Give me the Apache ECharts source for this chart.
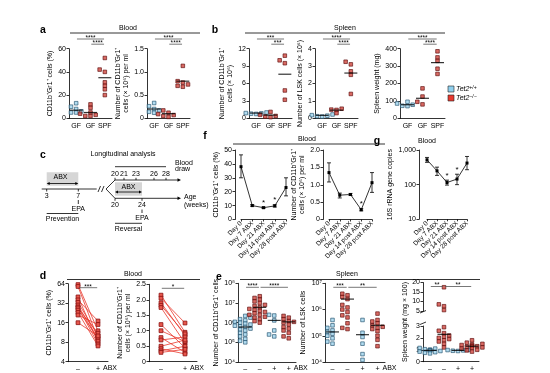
<!DOCTYPE html>
<html><head><meta charset="utf-8">
<script src="https://cdn.jsdelivr.net/npm/echarts@6/dist/echarts.min.js"></script>
<style>html,body{margin:0;padding:0;background:#fff}#c{width:550px;height:373px}</style>
</head><body><div id="c"></div>
<script>
// ---------------- categories / tick labels ----------------
const gfCats = ['GF', 'GF', 'SPF'];
const gfGeno = ['wt', 'ko', 'ko'];
const abxCats = ['–', '–', '+', '+'];
const abxGeno = ['wt', 'ko', 'wt', 'ko'];
const pairCats = ['–', '+'];
const dayCats = ['Day 0', 'Day 7 ABX', 'Day 21 ABX', 'Day 14 post ABX', 'Day 28 post ABX'];

// ---------------- panel a (blood) ----------------
const a1Groups = [[13, 10, 8, 6, 5, 5], [12, 9, 5, 4, 3, 2, 2], [52, 42, 40, 31, 28, 25, 20]];
const a1Means = [7, 5, 35];
const a2Groups = [[0.33, 0.26, 0.2, 0.17, 0.14, 0.12], [0.17, 0.12, 0.09, 0.07, 0.05, 0.03], [1.13, 0.8, 0.77, 0.73, 0.7, 0.68]];
const a2Means = [0.2, 0.1, 0.8];
const sigA1 = [['****', 0, 2, 1], ['****', 1, 2, 0]];
const sigA2 = [['****', 0, 2, 1], ['****', 1, 2, 0]];

// ---------------- panel b (spleen) ----------------
const b1Groups = [[1.0, 0.9, 0.85, 0.8, 0.75], [1.1, 0.6, 0.4, 0.3, 0.2], [10.8, 10.0, 9.5, 4.8, 3.2]];
const b1Means = [0.9, 0.55, 7.6];
const b2Groups = [[0.22, 0.18, 0.15, 0.12, 0.1], [0.55, 0.5, 0.48, 0.3], [3.25, 3.1, 2.7, 2.5, 1.4]];
const b2Means = [0.17, 0.47, 2.6];
const b3Groups = [[95, 85, 78, 72, 70], [172, 125, 95, 80], [385, 350, 330, 285, 255]];
const b3Means = [78, 115, 320];
const sigB1 = [['***', 0, 2, 1], ['***', 1, 2, 0]];
const sigB2 = [['****', 0, 2, 1], ['****', 1, 2, 0]];
const sigB3 = [['****', 0, 2, 1], ['****', 1, 2, 0]];

// ---------------- panel c (schematic) ----------------
const cPrevWeeks = [3, 7];
const cTopWeeks = [20, 21, 23, 26, 28];
const cBotWeeks = [20, 24];

// ---------------- panel f, g (time course) ----------------
const f1Mean = [38, 10, 8.5, 9.8, 23];
const f1Lo = [30, 9.5, 8, 9, 17];
const f1Hi = [46.5, 10.7, 9, 10.6, 30];
const f1Sig = [2, 3];
const f2Mean = [1.35, 0.7, 0.72, 0.28, 1.06];
const f2Lo = [1.08, 0.62, 0.69, 0.25, 0.78];
const f2Hi = [1.63, 0.76, 0.75, 0.31, 1.35];
const f2Sig = [3];
const gMean = [520, 250, 115, 145, 420];
const gLo = [440, 185, 97, 100, 270];
const gHi = [610, 320, 135, 200, 650];
const gSig = [2, 3];

// ---------------- panel d (paired) ----------------
const d1Minus = [62, 58, 40, 36, 33, 30, 28, 27, 25, 23, 21, 16];
const d1Plus = [12, 9, 8, 17, 10, 8.5, 7.5, 11, 9.5, 7, 15, 10];
const d2Minus = [2.15, 2.05, 1.9, 1.82, 1.75, 1.2, 1.0, 0.78, 0.7, 0.5, 0.42, 0.35, 0.3];
const d2Plus = [0.95, 1.25, 0.85, 0.9, 0.6, 0.45, 0.65, 0.3, 0.8, 0.7, 0.25, 0.5, 0.4];
const sigD1 = [['***', 0, 1, 0]];
const sigD2 = [['*', 0, 1, 0]];

// ---------------- panel e (spleen) ----------------
const e1Groups = [
  [2.2e6, 1.8e6, 1.5e6, 1.3e6, 1.1e6, 1e6, 9e5, 8e5, 7e5, 6.5e5, 6e5, 5e5, 4.5e5, 4e5, 3e5, 2.5e5, 2e5, 1.5e5, 1.2e5, 1e5],
  [2.2e7, 1.8e7, 1.5e7, 1.2e7, 1e7, 8e6, 7e6, 6e6, 5e6, 4.5e6, 4e6, 3.5e6, 3e6, 2.5e6, 2.5e6, 2e6, 1.8e6, 1.5e6, 1.2e6, 1e6],
  [2.5e6, 2.3e6, 1.3e6, 4e5, 2.5e5, 2e5],
  [2.2e6, 1.8e6, 1.5e6, 1.2e6, 1.1e6, 1e6, 8e5, 6e5, 5e5, 4e5, 3e5, 2e5, 1.6e5]
];
const e1Means = [6e5, 6e6, 1.3e6, 1.1e6];
const e2Groups = [
  [4e5, 2.5e5, 2e5, 1.6e5, 1.4e5, 1.2e5, 1e5, 8e4, 6e4, 5e4],
  [4e6, 3.5e6, 3e6, 2.5e6, 1.5e6, 1.2e6, 1e6, 8e5, 6e5, 5e5, 3e5, 2e5, 1.8e5],
  [4e5, 1.3e5, 9e4, 5e4, 2e4, 1.2e4],
  [7e5, 4e5, 3.5e5, 3e5, 2.5e5, 2.2e5, 2e5, 1.8e5, 1.5e5, 1e5, 7e4, 4e4]
];
const e2Means = [1.4e5, 2.5e6, 1.1e5, 2.5e5];
const e3Groups = [
  [1.15, 1.1, 1.05, 1.0, 1.0, 0.95, 0.95, 0.9, 0.9, 0.85, 0.8, 0.75, 0.7],
  [17.5, 8.5, 7.5, 5.5, 2.9, 2.6, 2.4, 2.2, 2.1, 2.0, 1.9, 1.8, 1.7, 1.5, 1.2],
  [1.0, 0.98, 0.95, 0.92, 0.9],
  [1.8, 1.6, 1.5, 1.45, 1.4, 1.35, 1.3, 1.3, 1.25, 1.2, 1.15, 1.1, 1.0, 0.95, 0.85]
];
const e3Means = [0.95, 2.3, 0.95, 1.3];
const sigE1 = [['****', 0, 1, 0], ['****', 1, 3, 0]];
const sigE2 = [['***', 0, 1, 0], ['**', 1, 3, 0]];
const sigE3 = [['**', 0, 1, 0], ['**', 1, 3, 0]];

// =====================================================================
const FONT = "'Liberation Sans', Arial, sans-serif";
const BLUE = { color: '#9fd3ec', borderColor: '#1f4e6b', borderWidth: 0.8 };
const RED = { color: '#cf453c', borderColor: '#5a0a0a', borderWidth: 0.8 };
const LINERED = '#e8372c';
const AX = { color: '#000', width: 0.8 };
const LBL = { fontSize: 7, color: '#000', fontFamily: FONT };
const SUP = { 4: '⁴', 5: '⁵', 6: '⁶', 7: '⁷', 8: '⁸' };

const grids = [], xAxis = [], yAxis = [], series = [], swarmIdx = [], G = [];
function addGrid(box, x, y) {
  const i = grids.length;
  grids.push(Object.assign({ show: false }, box));
  x.gridIndex = i; y.gridIndex = i;
  xAxis.push(x); yAxis.push(y);
  return i;
}
function catAxis(data, o) {
  return Object.assign({
    type: 'category', data, boundaryGap: true,
    axisLine: { show: true, lineStyle: AX }, axisTick: { show: false },
    axisLabel: Object.assign({ margin: 4, interval: 0 }, LBL), splitLine: { show: false }
  }, o || {});
}
function valAxis(o) {
  return Object.assign({
    type: 'value', nameLocation: 'middle', nameRotate: 90,
    nameTextStyle: Object.assign({ lineHeight: 8.5 }, LBL),
    axisLine: { show: true, lineStyle: AX },
    axisTick: { show: true, length: 2.5, lineStyle: AX },
    axisLabel: Object.assign({ margin: 3 }, LBL),
    splitLine: { show: false }, minorTick: { show: false }
  }, o);
}
const dec1 = v => v === 0 ? '0' : v.toFixed(1);
const pow10 = v => '10' + SUP[Math.round(Math.log10(v))];

function dotPlot(gi, groups, means, geno) {
  groups.forEach((vals, ci) => {
    if (!vals.length) return;
    swarmIdx.push(series.length);
    series.push({ type: 'scatter', xAxisIndex: gi, yAxisIndex: gi, symbol: 'rect', symbolSize: 3.6,
      itemStyle: geno[ci] === 'wt' ? BLUE : RED, data: vals.map(v => [ci, v]), z: 3 });
  });
  const md = means.map((m, ci) => m == null ? null : [ci, m]).filter(d => d);
  if (md.length) series.push({ type: 'scatter', xAxisIndex: gi, yAxisIndex: gi, symbol: 'rect', symbolSize: [13, 1.2],
    itemStyle: { color: '#000' }, data: md, z: 5 });
}
function linePlot(gi, means, lo, hi, sig) {
  series.push({ type: 'custom', xAxisIndex: gi, yAxisIndex: gi, z: 4,
    data: means.map((m, i) => [i, lo[i], hi[i], sig.includes(i) ? 1 : 0]),
    renderItem: (p, api) => {
      const a = api.coord([api.value(0), api.value(1)]), b = api.coord([api.value(0), api.value(2)]);
      const st = { stroke: '#000', lineWidth: 0.8 };
      const ch = [
        { type: 'line', shape: { x1: a[0], y1: a[1], x2: b[0], y2: b[1] }, style: st },
        { type: 'line', shape: { x1: a[0] - 2, y1: a[1], x2: a[0] + 2, y2: a[1] }, style: st },
        { type: 'line', shape: { x1: b[0] - 2, y1: b[1], x2: b[0] + 2, y2: b[1] }, style: st }
      ];
      if (api.value(3)) ch.push({ type: 'text', x: b[0], y: b[1] - 0.5,
        style: { text: '*', fontSize: 8, fontFamily: FONT, fill: '#000', align: 'center', verticalAlign: 'bottom', textAlign: 'center', textVerticalAlign: 'bottom' } });
      return { type: 'group', children: ch };
    } });
  series.push({ type: 'line', xAxisIndex: gi, yAxisIndex: gi, data: means, symbol: 'rect', symbolSize: 3,
    itemStyle: { color: '#000' }, lineStyle: { color: '#000', width: 0.8 }, z: 5 });
}
function pairPlot(gi, minus, plus) {
  minus.forEach((m, k) => series.push({ type: 'line', xAxisIndex: gi, yAxisIndex: gi, data: [[0, m], [1, plus[k]]],
    symbol: 'rect', symbolSize: 3.8, itemStyle: { color: '#e8574c', borderColor: '#8a1010', borderWidth: 0.8 },
    lineStyle: { color: LINERED, width: 0.8 }, z: 3 }));
}

// ---------- row 1 ----------
const R1 = { top: 48.7, height: 69.6 };
const gA1 = addGrid(Object.assign({ left: 69, width: 43 }, R1), catAxis(gfCats),
  valAxis({ min: 0, max: 60, interval: 20, name: 'CD11b⁺Gr1⁺ cells (%)', nameGap: 14 }));
const gA2 = addGrid(Object.assign({ left: 147, width: 43 }, R1), catAxis(gfCats),
  valAxis({ min: 0, max: 1.5, interval: 0.5, name: 'Number of CD11b⁺Gr1⁺\ncells (× 10⁶) per ml', nameGap: 13, axisLabel: Object.assign({ margin: 3, formatter: dec1 }, LBL) }));
const gB1 = addGrid(Object.assign({ left: 249, width: 43 }, R1), catAxis(gfCats),
  valAxis({ min: 0, max: 12, interval: 3, name: 'Number of CD11b⁺Gr1⁺\ncells (× 10⁶)', nameGap: 12 }));
const gB2 = addGrid(Object.assign({ left: 315, width: 43 }, R1), catAxis(gfCats),
  valAxis({ min: 0, max: 4, interval: 1, name: 'Number of LSK cells (× 10⁶)', nameGap: 9 }));
const gB3 = addGrid(Object.assign({ left: 400, width: 45 }, R1), catAxis(gfCats),
  valAxis({ min: 0, max: 400, interval: 100, name: 'Spleen weight (mg)', nameGap: 16 }));
dotPlot(gA1, a1Groups, a1Means, gfGeno);
dotPlot(gA2, a2Groups, a2Means, gfGeno);
dotPlot(gB1, b1Groups, b1Means, gfGeno);
dotPlot(gB2, b2Groups, b2Means, gfGeno);
dotPlot(gB3, b3Groups, b3Means, gfGeno);

// ---------- row 2 ----------
function dayAxis() {
  return catAxis(dayCats, { boundaryGap: false, axisTick: { show: true, length: 2, lineStyle: AX },
    axisLabel: Object.assign({}, LBL, { fontSize: 6.5, rotate: 45, margin: 3, interval: 0 }) });
}
const gF1 = addGrid({ left: 241, top: 150, width: 45, height: 69.5 }, dayAxis(),
  valAxis({ min: 0, max: 50, interval: 10, offset: 6, name: 'CD11b⁺Gr1⁺ cells (%)', nameGap: 12 }));
const gF2 = addGrid({ left: 329, top: 150, width: 43, height: 69.5 }, dayAxis(),
  valAxis({ min: 0, max: 2, interval: 0.5, offset: 6, name: 'Number of CD11b⁺Gr1⁺\ncells (× 10⁶) per ml', nameGap: 13, axisLabel: Object.assign({ margin: 3, formatter: dec1 }, LBL) }));
const gG = addGrid({ left: 427, top: 150, width: 40, height: 69.3 }, dayAxis(),
  valAxis({ type: 'log', logBase: 10, min: 10, max: 1000, offset: 8, name: '16S rRNA gene copies', nameGap: 17,
    axisLabel: Object.assign({ margin: 3, formatter: v => v >= 1000 ? '1,000' : String(v) }, LBL) }));
linePlot(gF1, f1Mean, f1Lo, f1Hi, f1Sig);
linePlot(gF2, f2Mean, f2Lo, f2Hi, f2Sig);
linePlot(gG, gMean, gLo, gHi, gSig);

// ---------- row 3 ----------
const gD1 = addGrid({ left: 68, top: 283.7, width: 40, height: 78 }, catAxis(pairCats),
  valAxis({ type: 'log', logBase: 2, min: 4, max: 64, name: 'CD11b⁺Gr1⁺ cells (%)', nameGap: 12 }));
const gD2 = addGrid({ left: 149, top: 284.3, width: 48, height: 77.4 }, catAxis(pairCats),
  valAxis({ min: 0, max: 2.5, interval: 0.5, name: 'Number of CD11b⁺Gr1⁺\ncells (× 10⁶) per ml', nameGap: 13, axisLabel: Object.assign({ margin: 3, formatter: dec1 }, LBL) }));
pairPlot(gD1, d1Minus, d1Plus);
pairPlot(gD2, d2Minus, d2Plus);

const gE1 = addGrid({ left: 238, top: 283.3, width: 58, height: 79 }, catAxis(abxCats),
  valAxis({ type: 'log', logBase: 10, min: 1e4, max: 1e8, name: 'Number of CD11b⁺Gr1⁺ cells', nameGap: 11,
    axisLabel: Object.assign({ margin: 3, formatter: pow10 }, LBL) }));
const gE2 = addGrid({ left: 325, top: 283.3, width: 60, height: 79 }, catAxis(abxCats),
  valAxis({ type: 'log', logBase: 10, min: 1e4, max: 1e7, name: 'Number of LSK cells', nameGap: 11,
    axisLabel: Object.assign({ margin: 3, formatter: pow10 }, LBL) }));
const gE3u = addGrid({ left: 423, top: 282.5, width: 56, height: 28.5 },
  catAxis(abxCats, { axisLine: { show: false }, axisLabel: { show: false } }),
  valAxis({ min: 5, max: 20, interval: 5 }));
const gE3l = addGrid({ left: 423, top: 326, width: 56, height: 35.7 }, catAxis(abxCats),
  valAxis({ min: 0, max: 3, interval: 1 }));
dotPlot(gE1, e1Groups, e1Means, abxGeno);
dotPlot(gE2, e2Groups, e2Means, abxGeno);
dotPlot(gE3u, e3Groups.map(g => g.filter(v => v >= 4)), [], abxGeno);
dotPlot(gE3l, e3Groups.map(g => g.filter(v => v < 4)), e3Means, abxGeno);

// ---------------- graphic helpers ----------------
function T(x, y, text, o) {
  const st = Object.assign({ text, fontSize: 7, fontFamily: FONT, fill: '#000', align: 'center', verticalAlign: 'middle' }, o || {});
  st.textAlign = st.align; st.textVerticalAlign = st.verticalAlign;
  const el = { type: 'text', x, y, style: st, z: 10 };
  if (o && o.rotation) { el.rotation = o.rotation; delete st.rotation; }
  G.push(el);
}
function L(x1, y1, x2, y2, o) {
  G.push({ type: 'line', shape: { x1, y1, x2, y2 }, style: Object.assign({ stroke: '#000', lineWidth: 0.8 }, o || {}), z: 10 });
}
function Rc(x, y, w, h, fill, stroke) {
  G.push({ type: 'rect', shape: { x, y, width: w, height: h }, style: { fill, stroke: stroke || null, lineWidth: 0.6 }, z: 9 });
}
function tri(x, y, dir, s) {
  G.push({ type: 'polygon', shape: { points: [[x, y], [x - dir * s, y - s * 0.5], [x - dir * s, y + s * 0.5]] }, style: { fill: '#000' }, z: 10 });
}

// panel letters + section titles
const BOLD = { fontSize: 10.5, fontWeight: 'bold' };
[['a', 43, 30], ['b', 215, 30], ['c', 43, 155], ['f', 205, 136], ['g', 377, 141], ['d', 43, 276], ['e', 219, 277]]
  .forEach(([t, x, y]) => T(x, y, t, BOLD));
T(128, 28.5, 'Blood'); L(70, 33, 200, 33);
T(345, 28.5, 'Spleen'); L(245, 33, 445, 33);
T(307, 139, 'Blood'); L(233, 144, 385, 144);
T(427, 141, 'Blood');
T(133, 274.3, 'Blood'); L(67, 279.5, 200, 279.5);
T(347, 274.3, 'Spleen'); L(240, 279.5, 480, 279.5);

// legend
Rc(448, 86, 6, 6, '#8fd0ee', '#222');
Rc(448, 95, 6, 6, '#e8392f', '#222');
const LEG_RICH = { i: { fontStyle: 'italic', fontSize: 7, fontFamily: FONT }, s: { fontStyle: 'italic', fontSize: 5, fontFamily: FONT, verticalAlign: 'top' } };
G.push({ type: 'text', x: 456, y: 89, z: 10, style: { text: '{i|Tet2}{s|+/+}', rich: LEG_RICH, align: 'left', verticalAlign: 'middle', textAlign: 'left', textVerticalAlign: 'middle' } });
G.push({ type: 'text', x: 456, y: 98, z: 10, style: { text: '{i|Tet2}{s|−/−}', rich: LEG_RICH, align: 'left', verticalAlign: 'middle', textAlign: 'left', textVerticalAlign: 'middle' } });

// panel c schematic (schematic, non-linear week spacing as in the original)
const wxL = w => 46.7 + (w - 3) * 7.9;
const wxR = w => w <= 21 ? 115 + (w - 20) * 9 : 124 + (w - 21) * 6;
const GREY = '#d6d6d6';
T(123, 154, 'Longitudinal analysis');
Rc(wxL(3), 172.3, wxL(7) - wxL(3), 13.4, GREY);
T(60.5, 177.5, 'ABX');
L(wxL(3) + 2, 183.5, wxL(7) - 2, 183.5); tri(wxL(3), 183.5, -1, 3); tri(wxL(7), 183.5, 1, 3);
L(41.7, 189, 96.7, 189);
cPrevWeeks.forEach(w => { L(wxL(w), 189, wxL(w), 191.5); T(wxL(w), 196.5, String(w)); });
L(wxL(7), 200, wxL(7), 204); T(wxL(7), 208.8, 'EPA');
L(wxL(3), 213.5, wxL(7), 213.5); T(62.5, 219, 'Prevention');
L(98, 192, 100.5, 186); L(101.5, 192, 104, 186);
L(106, 189, 115, 180); L(106, 189, 115, 198.3);
L(115, 180, 178, 180); tri(181, 180, 1, 3.5);
cTopWeeks.forEach(w => { L(wxR(w), 180, wxR(w), 177.8); T(wxR(w), 174, String(w)); });
L(115, 166.7, wxR(28), 166.7);
T(175, 163.3, 'Blood', { align: 'left' }); T(175, 169.5, 'draw', { align: 'left' });
Rc(wxR(20), 182.3, wxR(24) - wxR(20), 13.4, GREY);
T(128.5, 187, 'ABX');
L(wxR(20) + 2, 192, wxR(24) - 2, 192); tri(wxR(20), 192, -1, 3); tri(wxR(24), 192, 1, 3);
L(115, 198.3, 178, 198.3); tri(181, 198.3, 1, 3.5);
cBotWeeks.forEach(w => { L(wxR(w), 198.3, wxR(w), 200.8); T(wxR(w), 205.5, String(w)); });
L(wxR(24), 209.5, wxR(24), 213); T(wxR(24), 218, 'EPA');
L(wxR(20), 223.3, wxR(24), 223.3); T(128.5, 229, 'Reversal');
T(184, 197.5, 'Age', { align: 'left' }); T(184, 205.5, '(weeks)', { align: 'left' });

// e3 axis title
T(405, 322, 'Spleen weight (mg × 100)', { rotation: Math.PI / 2 });

// ---------------- render ----------------
const chart = echarts.init(document.getElementById('c'), null, { renderer: 'canvas', width: 550, height: 373 });
const option = { animation: false, backgroundColor: '#fff', grid: grids, xAxis, yAxis, series, graphic: { elements: G } };
chart.setOption(option);

// beeswarm offsets computed from the library's own pixel mapping
const upd = series.map(() => ({}));
swarmIdx.forEach(si => {
  const data = series[si].data;
  const pts = data.map((d, k) => ({ k, y: chart.convertToPixel({ seriesIndex: si }, d)[1] }));
  pts.sort((p, q) => q.y - p.y);
  const placed = [], offs = new Array(data.length).fill(0);
  const steps = [0, -1, 1, -2, 2, -3, 3, -4, 4];
  pts.forEach(p => {
    for (const s of steps) {
      const dx = s * 2.6;
      if (!placed.some(q => Math.abs(q.dx - dx) < 3.1 && Math.abs(q.y - p.y) < 3.1)) { placed.push({ dx, y: p.y }); offs[p.k] = dx; break; }
    }
  });
  upd[si] = { data: data.map((d, k) => ({ value: d, symbolOffset: [offs[k], 0] })) };
});

// significance brackets & ABX labels
const px = (gi, ci) => chart.convertToPixel({ xAxisIndex: gi }, ci);
function brackets(gi, sigs, top, mode) {
  sigs.forEach(([txt, c1, c2, lvl]) => {
    const y = mode === 'in' ? top + 4 : top - 4.5 - lvl * 5.2;
    const x1 = px(gi, c1) + 0.8, x2 = px(gi, c2) - 0.8;
    G.push({ type: 'line', shape: { x1, y1: y, x2, y2: y }, style: { stroke: '#555', lineWidth: 0.8 }, z: 10 });
    T((x1 + x2) / 2, y - 0.8, txt, { fontSize: 6.5 });
  });
}
brackets(gA1, sigA1, 48.7); brackets(gA2, sigA2, 48.7);
brackets(gB1, sigB1, 48.7); brackets(gB2, sigB2, 48.7); brackets(gB3, sigB3, 48.7);
brackets(gD1, sigD1, 283.7, 'in'); brackets(gD2, sigD2, 284.3, 'in');
brackets(gE1, sigE1, 283.3, 'in'); brackets(gE2, sigE2, 283.3, 'in'); brackets(gE3u, sigE3, 282.5, 'in');
[[gD1, 1], [gD2, 1], [gE1, 3], [gE2, 3]].forEach(([gi, last]) => T(px(gi, last) + 5, 368, 'ABX', { align: 'left' }));
// e3 axis break marks
L(420, 313, 426, 310.5); L(420, 324.5, 426, 322);

chart.setOption({ series: upd, graphic: { elements: G } });
</script></body></html>
